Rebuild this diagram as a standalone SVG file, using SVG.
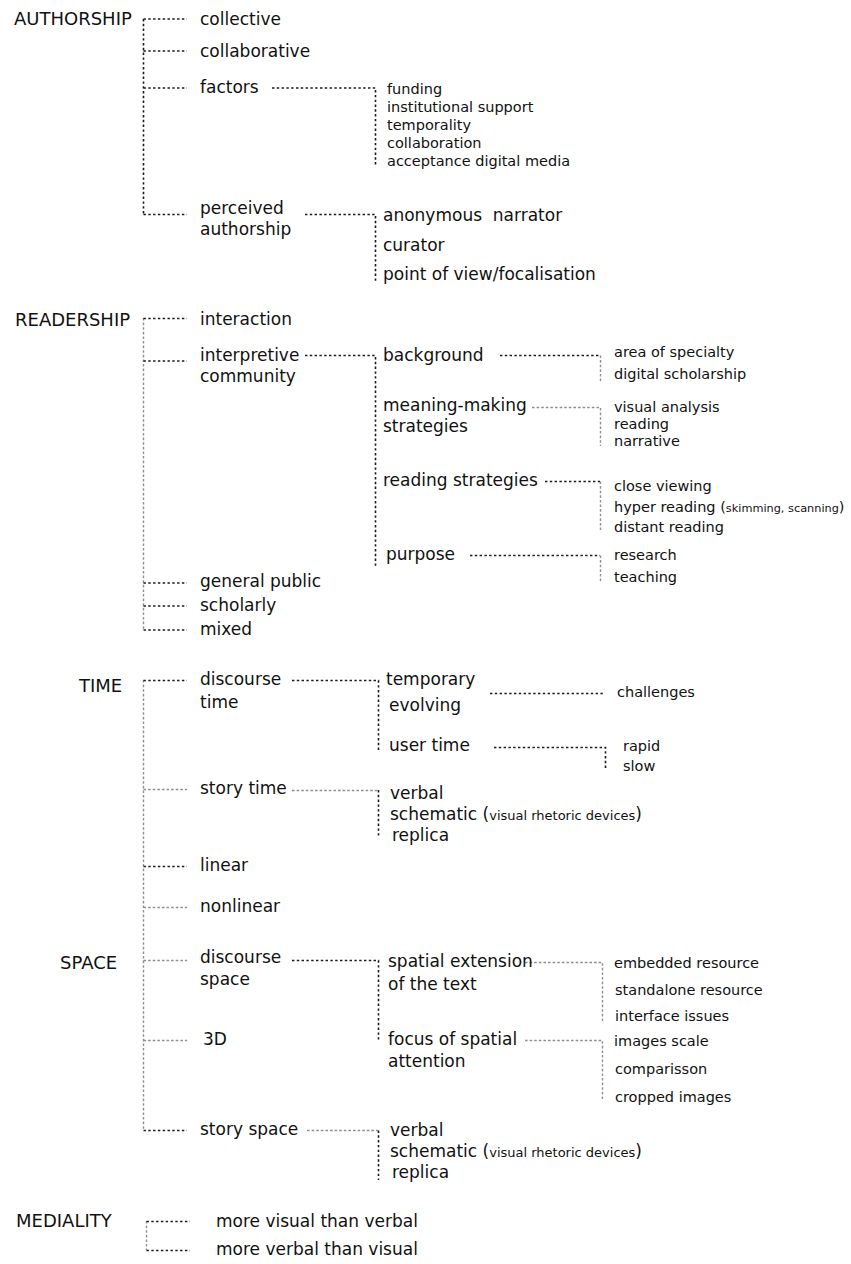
<svg xmlns="http://www.w3.org/2000/svg" width="851" height="1264" viewBox="0 0 851 1264">
<style>
text { font-family: "DejaVu Sans", "Liberation Sans", sans-serif; fill: #111; }
.h { font-size: 18px; }
.m { font-size: 17px; }
.s { font-size: 14.5px; }
.t { font-size: 11.3px; }
.v { font-size: 13px; }
.d { stroke: #1a1a1a; stroke-width: 1.6; stroke-dasharray: 2.4 2.4; fill: none; }
.g { stroke: #8f8f8f; stroke-width: 1.4; stroke-dasharray: 2.6 2; fill: none; }
</style>
<rect width="851" height="1264" fill="#fff"/>
<g id="connectors">
  <!-- authorship -->
  <path class="d" d="M143.5 19V215M143.5 19H187M143.5 51H187M143.5 88H187M143.5 214.5H187"/>
  <path class="d" d="M272 88H375.5V167M305 214.5H375.5V281"/>
  <!-- readership -->
  <path class="g" d="M143.5 318V630"/>
  <path class="d" d="M143.5 318.5H187M143.5 361H187M143.5 583H187M143.5 606H187M143.5 630H187"/>
  <path class="d" d="M305 355.5H375.5V566"/>
  <path class="d" d="M500 355.5H600"/>
  <path class="g" d="M600.5 355.5V381M532 407.5H600.5V446M600.5 481.5V530M600.5 555.5V581"/>
  <path class="d" d="M545 481.5H600M470 555.5H600"/>
  <!-- time / space -->
  <path class="g" d="M143.5 680V1130"/>
  <path class="d" d="M143.5 680.5H187M143.5 866.5H187M292 680.5H378.5V752M490 693.5H603M494 747.5H605.5V770M378.5 790V838"/>
  <path class="g" d="M143.5 789.5H187M143.5 907.5H187M292 790.5H378"/>
  <path class="g" d="M143.5 960.5H187M143.5 1040.5H187M525 962.5H602.5V1022M525 1040.5H602.5V1100M307 1130.5H378"/>
  <path class="d" d="M143.5 1130.5H187M292 960.5H378.5V1040M378.5 1130.5V1180"/>
  <!-- mediality -->
  <path class="g" d="M146.5 1221V1250"/>
  <path class="d" d="M146.5 1221.5H190M146.5 1250.5H190"/>
</g>

<g id="authorship"><text class="h" x="14" y="25">AUTHORSHIP</text></g>
<g id="collective"><text class="m" x="200" y="25">collective</text></g>
<g id="collaborative"><text class="m" x="200" y="57">collaborative</text></g>
<g id="factors"><text class="m" x="200" y="93">factors</text></g>
<g id="factor-list">
  <text class="s" x="387" y="94">funding</text>
  <text class="s" x="387" y="112">institutional support</text>
  <text class="s" x="387" y="130">temporality</text>
  <text class="s" x="387" y="148">collaboration</text>
  <text class="s" x="387" y="166">acceptance digital media</text>
</g>
<g id="perceived-authorship"><text class="m" x="200" y="214">perceived</text><text class="m" x="200" y="235">authorship</text></g>
<g id="anonymous-narrator"><text class="m" x="383" y="221" style="white-space:pre">anonymous  narrator</text></g>
<g id="curator"><text class="m" x="383" y="251">curator</text></g>
<g id="point-of-view"><text class="m" x="383" y="280">point of view/focalisation</text></g>

<g id="readership"><text class="h" x="15" y="326">READERSHIP</text></g>
<g id="interaction"><text class="m" x="200" y="325">interaction</text></g>
<g id="interpretive-community"><text class="m" x="200" y="361">interpretive</text><text class="m" x="200" y="382">community</text></g>
<g id="background"><text class="m" x="383" y="361">background</text></g>
<g id="background-list">
  <text class="s" x="614" y="357">area of specialty</text>
  <text class="s" x="614" y="379">digital scholarship</text>
</g>
<g id="meaning-making"><text class="m" x="383" y="411">meaning-making</text><text class="m" x="383" y="432">strategies</text></g>
<g id="meaning-list">
  <text class="s" x="614" y="412">visual analysis</text>
  <text class="s" x="614" y="429">reading</text>
  <text class="s" x="614" y="446">narrative</text>
</g>
<g id="reading-strategies"><text class="m" x="383" y="486">reading strategies</text></g>
<g id="reading-list">
  <text class="s" x="614" y="491">close viewing</text>
  <text class="s" x="614" y="512">hyper reading (<tspan class="t">skimming, scanning</tspan>)</text>
  <text class="s" x="614" y="532">distant reading</text>
</g>
<g id="purpose"><text class="m" x="386" y="560">purpose</text></g>
<g id="purpose-list">
  <text class="s" x="614" y="560">research</text>
  <text class="s" x="614" y="582">teaching</text>
</g>
<g id="general-public"><text class="m" x="200" y="587">general public</text></g>
<g id="scholarly"><text class="m" x="200" y="611">scholarly</text></g>
<g id="mixed"><text class="m" x="200" y="635">mixed</text></g>

<g id="time"><text class="h" x="79" y="692">TIME</text></g>
<g id="discourse-time"><text class="m" x="200" y="685">discourse</text><text class="m" x="200" y="708">time</text></g>
<g id="temporary-evolving"><text class="m" x="386" y="685">temporary</text><text class="m" x="389" y="711">evolving</text></g>
<g id="challenges"><text class="s" x="617" y="697">challenges</text></g>
<g id="user-time"><text class="m" x="389" y="751">user time</text></g>
<g id="user-time-list">
  <text class="s" x="623" y="751">rapid</text>
  <text class="s" x="623" y="771">slow</text>
</g>
<g id="story-time"><text class="m" x="200" y="794">story time</text></g>
<g id="story-time-list">
  <text class="m" x="390" y="799">verbal</text>
  <text class="m" x="390" y="820">schematic (<tspan class="v">visual rhetoric devices</tspan>)</text>
  <text class="m" x="392" y="841">replica</text>
</g>
<g id="linear"><text class="m" x="200" y="871">linear</text></g>
<g id="nonlinear"><text class="m" x="200" y="912">nonlinear</text></g>

<g id="space"><text class="h" x="60" y="969">SPACE</text></g>
<g id="discourse-space"><text class="m" x="200" y="963">discourse</text><text class="m" x="200" y="985">space</text></g>
<g id="spatial-extension"><text class="m" x="388" y="967">spatial extension</text><text class="m" x="388" y="990">of the text</text></g>
<g id="spatial-extension-list">
  <text class="s" x="614" y="968">embedded resource</text>
  <text class="s" x="615" y="995">standalone resource</text>
  <text class="s" x="615" y="1021">interface issues</text>
</g>
<g id="three-d"><text class="m" x="203" y="1045">3D</text></g>
<g id="focus-spatial"><text class="m" x="388" y="1045">focus of spatial</text><text class="m" x="388" y="1067">attention</text></g>
<g id="focus-list">
  <text class="s" x="614" y="1046">images scale</text>
  <text class="s" x="615" y="1074">comparisson</text>
  <text class="s" x="615" y="1102">cropped images</text>
</g>
<g id="story-space"><text class="m" x="200" y="1135">story space</text></g>
<g id="story-space-list">
  <text class="m" x="390" y="1136">verbal</text>
  <text class="m" x="390" y="1157">schematic (<tspan class="v">visual rhetoric devices</tspan>)</text>
  <text class="m" x="392" y="1178">replica</text>
</g>

<g id="mediality"><text class="h" x="16" y="1227">MEDIALITY</text></g>
<g id="more-visual"><text class="m" x="216" y="1227">more visual than verbal</text></g>
<g id="more-verbal"><text class="m" x="216" y="1255">more verbal than visual</text></g>
</svg>
